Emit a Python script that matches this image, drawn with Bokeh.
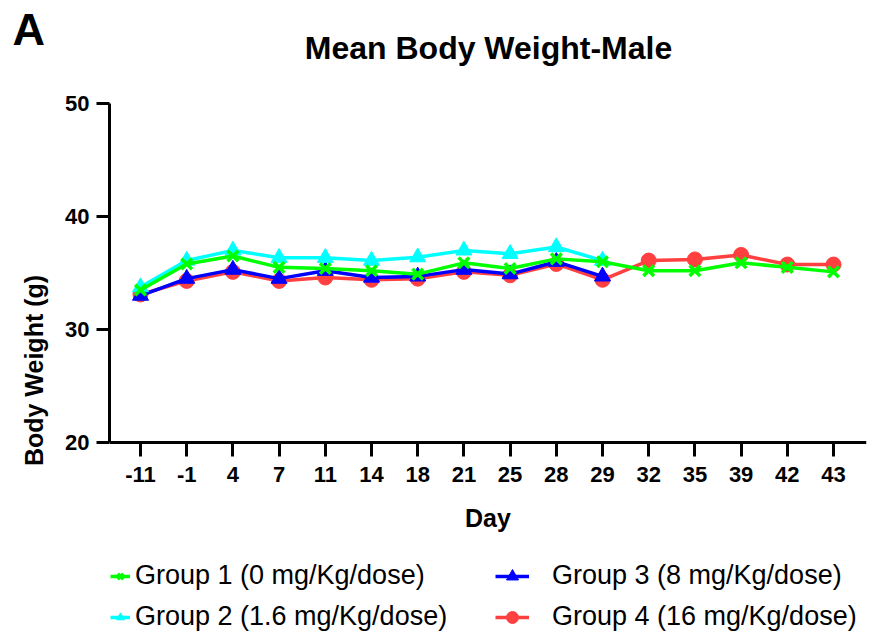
from bokeh.plotting import figure
from bokeh.models import (Range1d, FixedTicker, Legend, LegendItem, Label,
                          ColumnDataSource)
from bokeh.embed import file_html
from bokeh.resources import INLINE

days = ["-11", "-1", "4", "7", "11", "14", "18", "21", "25", "28", "29",
        "32", "35", "39", "42", "43"]
group1 = [33.5, 35.8, 36.5, 35.5, 35.4, 35.2, 34.9, 35.9, 35.4, 36.25, 36.0,
          35.2, 35.2, 35.9, 35.5, 35.1]
group2 = [33.75, 36.1, 37.0, 36.35, 36.35, 36.1, 36.4, 37.0, 36.7, 37.3, 36.1]
group3 = [33.0, 34.5, 35.3, 34.5, 35.2, 34.6, 34.7, 35.3, 34.9, 36.0, 34.7]
group4 = [33.1, 34.3, 35.1, 34.3, 34.6, 34.4, 34.5, 35.1, 34.8, 35.8, 34.4,
          36.1, 36.2, 36.6, 35.75, 35.75]
labels = ["Group 1 (0 mg/Kg/dose)", "Group 2 (1.6 mg/Kg/dose)",
          "Group 3 (8 mg/Kg/dose)", "Group 4 (16 mg/Kg/dose)"]
y_ticks = [20, 30, 40, 50]

FONT = "Liberation Sans"

# categorical days are placed at integer slots 0..15 on the x scale
slots = list(range(len(days)))
X_START, X_END = -0.671, 15.714      # visible span of the frame (slot units)
Y_MIN, Y_MAX = y_ticks[0], y_ticks[-1]
FRAME_W, FRAME_H = 757, 534
PLOT_H = 339                          # pixel height of the 20..50 band
y_bottom = Y_MAX - (Y_MAX - Y_MIN) * FRAME_H / PLOT_H

p = figure(frame_width=FRAME_W, frame_height=FRAME_H, output_backend="svg",
           toolbar_location=None,
           x_range=Range1d(X_START, X_END), y_range=Range1d(y_bottom, Y_MAX),
           min_border_left=109, min_border_right=5, min_border_top=103,
           min_border_bottom=0)
p.outline_line_color = None
p.xgrid.visible = False
p.ygrid.visible = False

for ax in (p.xaxis[0], p.yaxis[0]):
    ax.axis_line_width = 3
    ax.axis_line_color = "black"
    ax.major_tick_line_width = 3
    ax.major_tick_line_color = "black"
    ax.major_tick_in = 0
    ax.minor_tick_line_color = None
    ax.major_label_text_font = FONT
    ax.major_label_text_font_style = "bold"
    ax.major_label_text_font_size = "22px"
    ax.major_label_text_color = "black"
    ax.axis_label_text_font = FONT
    ax.axis_label_text_font_style = "bold"
    ax.axis_label_text_font_size = "25px"
    ax.axis_label_text_color = "black"

p.yaxis.ticker = FixedTicker(ticks=y_ticks)
p.yaxis.bounds = (Y_MIN, Y_MAX)
p.yaxis.major_tick_out = 13
p.yaxis.major_label_standoff = 7
p.yaxis.axis_label = "Body Weight (g)"
p.yaxis.axis_label_standoff = 14

p.xaxis.ticker = FixedTicker(ticks=slots)
p.xaxis.major_label_overrides = {i: d for i, d in zip(slots, days)}
p.xaxis.fixed_location = Y_MIN
p.xaxis.major_tick_out = 14
p.xaxis.major_label_standoff = 10
p.xaxis.axis_label = "Day"
p.xaxis.axis_label_standoff = 19

specs = [
    (group4, "#FF4040", "circle", 15),
    (group3, "#0000FF", "triangle", 16),
    (group2, "#00FFFF", "triangle", 16),
    (group1, "#00FF00", "x", 15),
]
renderers = {}
for vals, color, marker, size in specs:
    src = ColumnDataSource(dict(x=slots[:len(vals)], y=vals))
    ln = p.line("x", "y", source=src, line_color=color, line_width=3.5)
    if marker == "x":
        sc = p.scatter("x", "y", source=src, marker=marker, size=size,
                       line_color=color, line_width=3.5)
    else:
        sc = p.scatter("x", "y", source=src, marker=marker, size=size,
                       fill_color=color, line_color=color, line_width=1)
    renderers[color] = [ln, sc]


def make_legend(items, loc, glyph_w, standoff):
    return Legend(items=items, location=loc, orientation="vertical",
                  padding=0, margin=0, spacing=10, glyph_height=30,
                  label_height=30, glyph_width=glyph_w, label_standoff=standoff,
                  border_line_color=None, background_fill_alpha=0,
                  label_text_font=FONT, label_text_font_size="27px",
                  label_text_color="black")


p.add_layout(make_legend(
    [LegendItem(label=labels[0], renderers=renderers["#00FF00"]),
     LegendItem(label=labels[1], renderers=renderers["#00FFFF"])],
    (1, 5), 20, 5))
p.add_layout(make_legend(
    [LegendItem(label=labels[2], renderers=renderers["#0000FF"]),
     LegendItem(label=labels[3], renderers=renderers["#FF4040"])],
    (386, 5), 34, 23))

title = Label(x=379, y=56, x_units="screen", y_units="screen",
              text="Mean Body Weight-Male", text_align="center",
              text_baseline="alphabetic", text_font=FONT,
              text_font_style="bold", text_font_size="32px", text_color="black")
panel_letter = Label(x=-97, y=38, x_units="screen", y_units="screen", text="A",
                     text_align="left", text_baseline="alphabetic",
                     text_font=FONT, text_font_style="bold",
                     text_font_size="45px", text_color="black")
p.add_layout(title, "above")
p.add_layout(panel_letter, "above")

open("out.html", "w").write(file_html(p, INLINE))
